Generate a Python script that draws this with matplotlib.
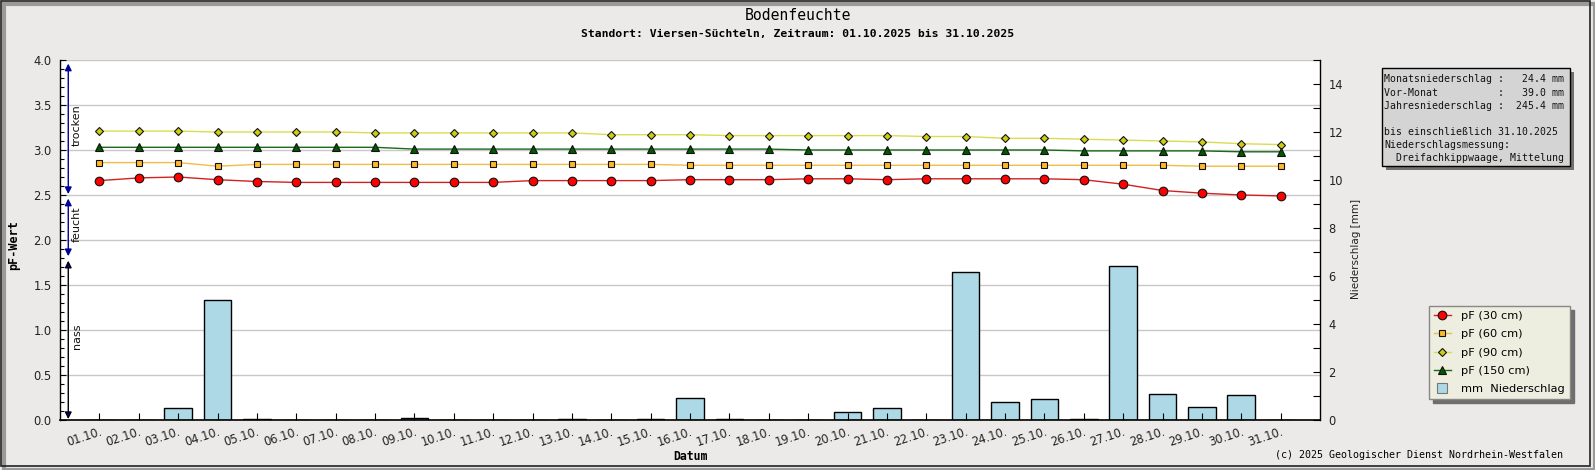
import matplotlib
matplotlib.use("Agg")
import matplotlib.pyplot as plt
from matplotlib.lines import Line2D
from matplotlib.patches import Rectangle
from matplotlib.ticker import MultipleLocator

# ---------------- data ----------------
days = list(range(1, 32))
day_labels = ["01.10.", "02.10.", "03.10.", "04.10.", "05.10.", "06.10.", "07.10.",
              "08.10.", "09.10.", "10.10.", "11.10.", "12.10.", "13.10.", "14.10.",
              "15.10.", "16.10.", "17.10.", "18.10.", "19.10.", "20.10.", "21.10.",
              "22.10.", "23.10.", "24.10.", "25.10.", "26.10.", "27.10.", "28.10.",
              "29.10.", "30.10.", "31.10."]

pf_30 = [2.66, 2.69, 2.70, 2.67, 2.65, 2.64, 2.64, 2.64, 2.64, 2.64, 2.64, 2.66,
         2.66, 2.66, 2.66, 2.67, 2.67, 2.67, 2.68, 2.68, 2.67, 2.68, 2.68, 2.68,
         2.68, 2.67, 2.62, 2.55, 2.52, 2.50, 2.49]
pf_60 = [2.86, 2.86, 2.86, 2.82, 2.84, 2.84, 2.84, 2.84, 2.84, 2.84, 2.84, 2.84,
         2.84, 2.84, 2.84, 2.83, 2.83, 2.83, 2.83, 2.83, 2.83, 2.83, 2.83, 2.83,
         2.83, 2.83, 2.83, 2.83, 2.82, 2.82, 2.82]
pf_90 = [3.21, 3.21, 3.21, 3.20, 3.20, 3.20, 3.20, 3.19, 3.19, 3.19, 3.19, 3.19,
         3.19, 3.17, 3.17, 3.17, 3.16, 3.16, 3.16, 3.16, 3.16, 3.15, 3.15, 3.13,
         3.13, 3.12, 3.11, 3.10, 3.09, 3.07, 3.06]
pf_150 = [3.03, 3.03, 3.03, 3.03, 3.03, 3.03, 3.03, 3.03, 3.01, 3.01, 3.01, 3.01,
          3.01, 3.01, 3.01, 3.01, 3.01, 3.01, 3.00, 3.00, 3.00, 3.00, 3.00, 3.00,
          3.00, 2.99, 2.99, 2.99, 2.99, 2.98, 2.98]
rain_mm = [0, 0, 0.49, 5.0, 0.04, 0, 0, 0, 0.07, 0, 0, 0, 0.04, 0, 0.04, 0.90,
           0.04, 0, 0, 0.32, 0.49, 0, 6.17, 0.75, 0.88, 0.04, 6.42, 1.07, 0.54,
           1.03, 0]

series_labels = ["pF (30 cm)", "pF (60 cm)", "pF (90 cm)", "pF (150 cm)"]
rain_label = "mm  Niederschlag"

zone_names = ["trocken", "feucht", "nass"]
zone_lo = [2.51, 1.82, 0.01]
zone_hi = [3.96, 2.46, 1.77]

info_lines = ["Monatsniederschlag :   24.4 mm",
              "Vor-Monat          :   39.0 mm",
              "Jahresniederschlag :  245.4 mm",
              "",
              "bis einschließlich 31.10.2025",
              "Niederschlagsmessung:",
              "  Dreifachkippwaage, Mittelung"]

title = "Bodenfeuchte"
subtitle = "Standort: Viersen-Süchteln, Zeitraum: 01.10.2025 bis 31.10.2025"
copyright_txt = "(c) 2025 Geologischer Dienst Nordrhein-Westfalen"

# ---------------- style ----------------
W, H = 1595, 470
BG = "#ECEAE8"
MONO = "DejaVu Sans Mono"
SANS = "DejaVu Sans"

fig = plt.figure(figsize=(W / 100, H / 100), dpi=100, facecolor=BG)

L, R, T, B = 60, 1320, 60, 420
rect = [L / W, 1 - B / H, (R - L) / W, (B - T) / H]

ax = fig.add_axes(rect)
ax.set_facecolor("white")
ax_rain = ax.twinx()
ax_top = ax.twinx()

ax.set_xlim(0, 32)
ax.set_ylim(0, 4)
ax_top.set_ylim(0, 4)
ax_rain.set_ylim(0, 15)

# grid on bottom axes
ax.yaxis.set_major_locator(MultipleLocator(0.5))
ax.yaxis.set_minor_locator(MultipleLocator(0.1))
ax.grid(axis="y", which="major", color="#C8C8C8", lw=1.0)
ax.set_axisbelow(True)
ax.tick_params(axis="y", which="both", direction="in", labelsize=8.3, pad=6,
               colors="black", labelcolor="#222222")
ax.tick_params(axis="y", which="major", length=4, width=0.8)
ax.tick_params(axis="y", which="minor", length=3, width=0.8)
ax.yaxis.set_major_formatter(matplotlib.ticker.FormatStrFormatter("%.1f"))
ax.xaxis.set_visible(False)
for s in ["top", "right", "bottom"]:
    ax.spines[s].set_visible(False)
ax.spines["left"].set_linewidth(1.0)

# rain bars
ax_rain.bar(days, rain_mm, width=0.7, color="#ADD8E6", edgecolor="black", lw=1.0)
ax_rain.yaxis.set_major_locator(MultipleLocator(2))
ax_rain.yaxis.set_minor_locator(MultipleLocator(1))
ax_rain.tick_params(axis="y", which="both", direction="in", length=5, width=0.8,
                    labelsize=8.3, pad=6, labelcolor="#222222")
for s in ["top", "left", "bottom"]:
    ax_rain.spines[s].set_visible(False)
ax_rain.spines["right"].set_linewidth(1.0)

# lines on top
styles = [
    dict(color="#D42020", marker="o", ms=6.2, mfc="#FF0000"),
    dict(color="#EFBF45", marker="s", ms=4.8, mfc="#FFB829"),
    dict(color="#DCDC50", marker="D", ms=4.0, mfc="#CDCD14"),
    dict(color="#1A6A1A", marker="^", ms=5.8, mfc="#005A00"),
]
for vals, st in zip([pf_30, pf_60, pf_90, pf_150], styles):
    ax_top.plot(days, vals, lw=1.0, mec="#111111", mew=0.8, **st)

ax_top.yaxis.set_visible(False)
ax_top.xaxis.set_visible(True)
ax_top.set_xticks(days)
ax_top.set_xticklabels(day_labels)
ax_top.xaxis.set_ticks_position("bottom")
ax_top.tick_params(axis="x", direction="in", length=5, width=0.8, pad=4,
                   labelsize=8.3, labelcolor="#222222")
for lbl in ax_top.get_xticklabels():
    lbl.set_rotation(18)
    lbl.set_ha("right")
    lbl.set_va("top")
    lbl.set_rotation_mode("anchor")
for s in ["top", "left", "right"]:
    ax_top.spines[s].set_visible(False)
ax_top.spines["bottom"].set_linewidth(1.2)

# zone arrows on the left
for name, lo, hi in zip(zone_names, zone_lo, zone_hi):
    ec = "black" if name == "nass" else "#000099"
    ax_top.annotate("", xy=(0.21, hi), xytext=(0.21, lo),
                    arrowprops=dict(arrowstyle="<|-|>", fc="#000099", ec=ec, lw=1.0,
                                    shrinkA=0, shrinkB=0, mutation_scale=10),
                    annotation_clip=False)
    ax_top.text(0.43, (lo + hi) / 2 + 0.04, name, rotation=90, ha="center", va="center",
                fontsize=8, family=SANS, color="#111111")

# axis labels
fig.text(14 / W, 1 - 245 / H, "pF-Wert", rotation=90, ha="center", va="center",
         fontsize=8.5, family=MONO, fontweight="bold")
fig.text(1356 / W, 1 - 249 / H, "Niederschlag [mm]", rotation=90, ha="center",
         va="center", fontsize=7.5, family=SANS, color="#222222")
fig.text(690 / W, 1 - 457 / H, "Datum", ha="center", va="center", fontsize=8.3,
         family=MONO, fontweight="bold")

# titles
fig.text(798 / W, 1 - 15 / H, title, ha="center", va="center", fontsize=10.6, family=MONO)
fig.text(798 / W, 1 - 34 / H, subtitle, ha="center", va="center", fontsize=8.2,
         family=MONO, fontweight="bold")
fig.text(1563 / W, 1 - 455 / H, copyright_txt, ha="right", va="center", fontsize=7.2,
         family=MONO)

# info box
bx0, bx1, by0, by1 = 1382, 1570, 68, 166
fig.patches.append(Rectangle(((bx0 + 4) / W, 1 - (by1 + 4) / H), (bx1 - bx0) / W,
                             (by1 - by0) / H, transform=fig.transFigure,
                             facecolor="#707070", edgecolor="none", zorder=1))
fig.patches.append(Rectangle((bx0 / W, 1 - by1 / H), (bx1 - bx0) / W, (by1 - by0) / H,
                             transform=fig.transFigure, facecolor="#D4D4D4",
                             edgecolor="black", lw=1.0, zorder=2))
for i, line in enumerate(info_lines):
    fig.text(1384 / W, 1 - (79.5 + 13.1 * i) / H, line, ha="left", va="center",
             fontsize=7.1, family=MONO, color="#111111", zorder=3)

# legend
handles = [Line2D([0], [0], lw=1.0, mec="#111111", mew=0.8, **st) for st in styles]
handles.append(Line2D([0], [0], lw=0, marker="s", ms=7.5, mfc="#ADD8E6", mec="#777777",
                      mew=0.8))
leg = fig.legend(handles, series_labels + [rain_label], loc="upper right",
                 bbox_to_anchor=(1570 / W, 1 - 306 / H), borderaxespad=0,
                 prop=dict(family=SANS, size=8.2), frameon=True, fancybox=False,
                 edgecolor="#888888", facecolor="#EDEDE0", framealpha=1,
                 handlelength=1.5, handletextpad=0.9, labelspacing=0.72,
                 borderpad=0.45, shadow=dict(color="#6E6E6E", alpha=1, ox=3, oy=-3))
leg.get_frame().set_linewidth(1.0)

# figure frame
fig.patches.append(Rectangle((4 / W, 0), (W - 4) / W, (H - 4) / H, transform=fig.transFigure,
                             facecolor="none", edgecolor="#9A9A9A", lw=3, zorder=0))
fig.patches.append(Rectangle((0.5 / W, 4 / H), (W - 6) / W, (H - 4.5) / H,
                             transform=fig.transFigure, facecolor="none",
                             edgecolor="#222222", lw=1.2, zorder=0))

fig.savefig("out.png", dpi=100, facecolor=BG)
